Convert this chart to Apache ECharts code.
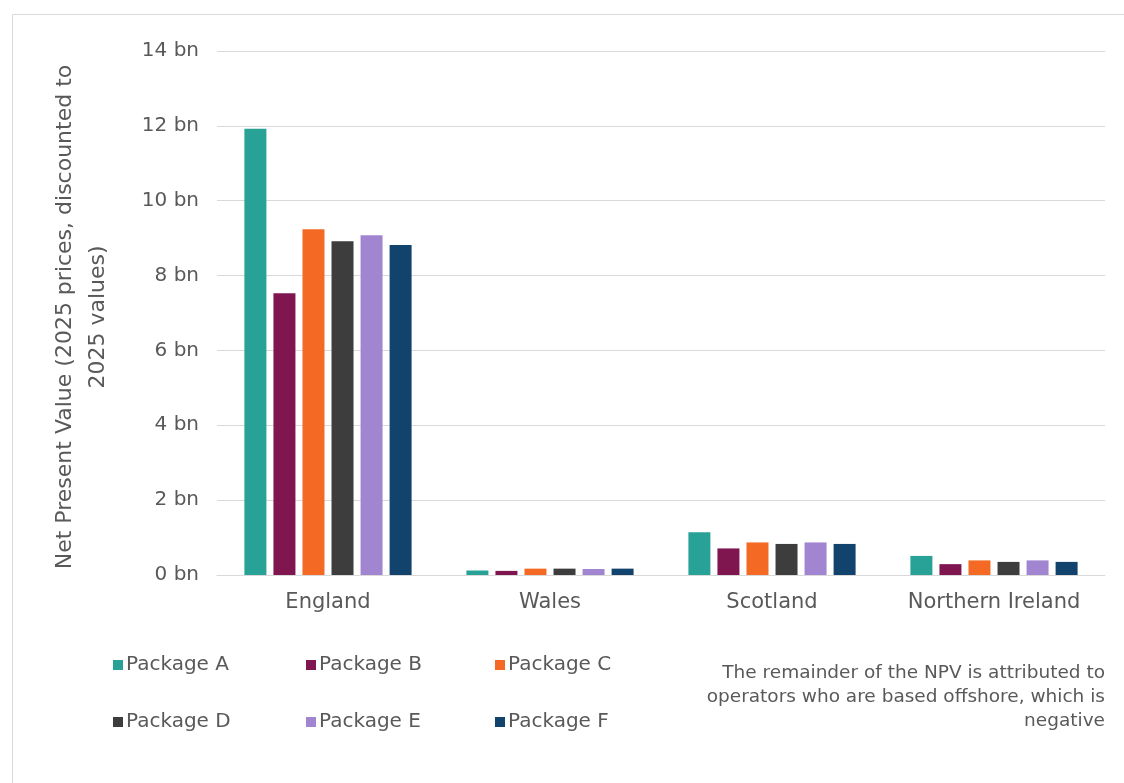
<!DOCTYPE html>
<html>
<head>
<meta charset="utf-8">
<script src="https://cdn.jsdelivr.net/npm/echarts@6/dist/echarts.min.js"></script>
<style>html,body{margin:0;padding:0;background:#fff}#c{width:1124px;height:783px}</style>
</head>
<body>
<div id="c"></div>
<script>
const categories = ['England', 'Wales', 'Scotland', 'Northern Ireland'];
const seriesNames = ['Package A', 'Package B', 'Package C', 'Package D', 'Package E', 'Package F'];
const packageA = [11.92, 0.12, 1.14, 0.51];
const packageB = [7.53, 0.11, 0.71, 0.29];
const packageC = [9.24, 0.17, 0.87, 0.39];
const packageD = [8.92, 0.17, 0.83, 0.35];
const packageE = [9.08, 0.16, 0.87, 0.39];
const packageF = [8.82, 0.17, 0.83, 0.35];
const yTicks = { min: 0, max: 14, interval: 2 };
const colors = ['#28A197', '#801650', '#F46A25', '#3D3D3D', '#A285D1', '#12436D'];
const yTitle = 'Net Present Value (2025 prices, discounted to\n2025 values)';
const note = 'The remainder of the NPV is attributed to\noperators who are based offshore, which is\nnegative';

const values = [packageA, packageB, packageC, packageD, packageE, packageF];
const FONT = 'DejaVu Sans';
const TXT = '#595959';

const legendPos = [[108, 650], [301, 650], [490, 650], [108, 707], [301, 707], [490, 707]];

const chart = echarts.init(document.getElementById('c'));
chart.setOption({
  animation: false,
  color: colors,
  grid: { left: 217, right: 19, top: 51, bottom: 208, containLabel: false },
  xAxis: {
    type: 'category',
    data: categories,
    axisLine: { lineStyle: { color: '#d9d9d9', width: 1 } },
    axisTick: { show: false },
    axisLabel: { interval: 0, hideOverlap: false, color: TXT, fontFamily: FONT, fontSize: 21, margin: 17 }
  },
  yAxis: {
    type: 'value',
    min: yTicks.min, max: yTicks.max, interval: yTicks.interval,
    axisLine: { show: false },
    axisTick: { show: false },
    splitLine: { lineStyle: { color: '#d9d9d9', width: 1 } },
    axisLabel: { color: TXT, fontFamily: FONT, fontSize: 20, margin: 18, formatter: '{value} bn' }
  },
  legend: seriesNames.map((n, i) => ({
    data: [n],
    left: legendPos[i][0], top: legendPos[i][1],
    itemWidth: 10, itemHeight: 10, itemGap: 0,
    icon: 'rect',
    textStyle: { color: TXT, fontFamily: FONT, fontSize: 20, padding: [0, 0, 0, -2] }
  })),
  series: seriesNames.map((n, i) => ({
    name: n,
    type: 'bar',
    data: values[i],
    barWidth: 22,
    barGap: '32%',
    itemStyle: { color: colors[i] }
  })),
  graphic: [
    {
      type: 'rect', silent: true,
      shape: { x: 12.5, y: 14.5, width: 1200, height: 900 },
      style: { fill: 'none', stroke: '#d9d9d9', lineWidth: 1 }
    },
    {
      type: 'text', silent: true,
      x: 82, y: 317, rotation: Math.PI / 2,
      style: {
        text: yTitle, fill: TXT, font: '22px "DejaVu Sans"',
        textAlign: 'center', textVerticalAlign: 'middle', lineHeight: 33
      }
    },
    {
      type: 'text', silent: true,
      x: 1105, y: 661,
      style: {
        text: note, fill: TXT, font: '18.5px "DejaVu Sans"',
        textAlign: 'right', textVerticalAlign: 'top', lineHeight: 24
      }
    }
  ]
});
</script>
</body>
</html>
